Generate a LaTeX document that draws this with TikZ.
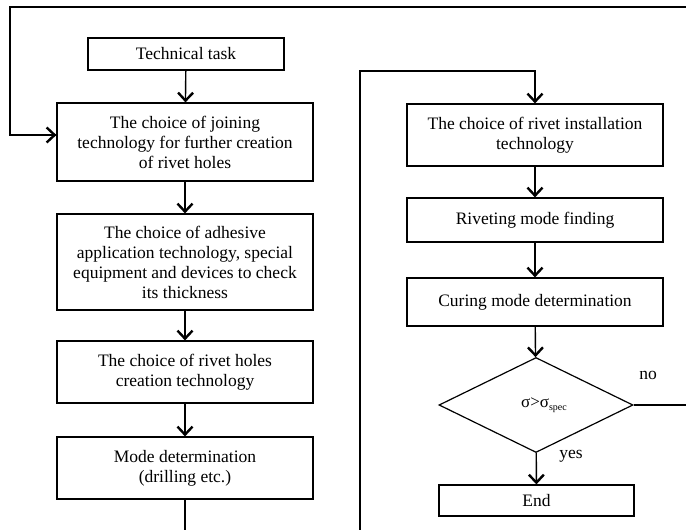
\documentclass[tikz,border=0pt]{standalone}
\usepackage{fontspec}
\setmainfont{Liberation Serif}
\usetikzlibrary{arrows.meta,shapes.geometric}
\begin{document}
\begin{tikzpicture}[x=1pt,y=-1pt,
  box/.style={draw, line width=1.2pt, inner sep=0pt, align=center,
    font=\fontsize{17.5}{20}\selectfont},
  decision/.style={diamond, draw, line width=1.2pt, inner sep=0pt,
    minimum width=194pt, minimum height=95pt},
  conn/.style={line width=1.4pt},
  arr/.style={conn, -{Straight Barb[length=8pt,width=15pt,line width=2.4pt]}},
  lbl/.style={font=\fontsize{17.5}{20}\selectfont}]
\useasboundingbox (0,0) rectangle (686,530);
\node[box, minimum width=196pt, minimum height=32pt] (t1) at (186,54) {Technical task};
\node[box, minimum width=256pt, minimum height=78pt] (b2) at (185,142)
  {The choice of joining\\technology for further creation\\of rivet holes};
\node[box, minimum width=256pt, minimum height=96pt] (b3) at (185,262)
  {The choice of adhesive\\application technology, special\\equipment and devices to check\\its thickness};
\node[box, minimum width=256pt, minimum height=62pt] (b4) at (185,372)
  {The choice of rivet holes\\creation technology};
\node[box, minimum width=256pt, minimum height=62pt] (b5) at (185,468)
  {Mode determination\\(drilling etc.)};
\node[box, minimum width=256pt, minimum height=62pt] (b6) at (535,135)
  {The choice of rivet installation\\technology};
\node[box, minimum width=256pt, minimum height=44pt] (b7) at (535,220)
  {Riveting mode finding};
\node[box, minimum width=256pt, minimum height=48pt] (b8) at (535,302)
  {Curing mode determination};
\node[decision] (d) at (536,405) {};
\node[font=\fontsize{17}{20}\selectfont, inner sep=0pt] (dl) at (544,405)
  {σ>σ\raisebox{-3pt}{\fontsize{10}{12}\selectfont spec}};
\node[box, minimum width=195pt, minimum height=31pt] (e) at (536.5,500.5) {End};
\node[lbl] (no) at (648,375) {no};
\node[lbl] (yes) at (571,456) {yes};
\coordinate (tr) at (686,7);
\coordinate (tl) at (10,7);
\coordinate (lb) at (185,530);
\coordinate (rb) at (360,530);
\coordinate (rt) at (360,71);
\coordinate (nr) at (686,405);
\draw[conn] (tr) -- (tl) |- ([yshift=7pt]b2.west);
\draw[arr] (tl |- b2.west) ++(0,-7) -- ([yshift=7pt]b2.west);
\draw[arr] (t1) -- (b2);
\draw[arr] (b2) -- (b3);
\draw[arr] (b3) -- (b4);
\draw[arr] (b4) -- (b5);
\draw[conn] (b5) -- (lb);
\draw[arr] (rb) -- (rt) -| (b6.north);
\draw[arr] (b6) -- (b7);
\draw[arr] (b7) -- (b8);
\draw[arr] (b8) -- (d);
\draw[arr] (d) -- (e);
\draw[conn] (d.east) -- (nr);
\end{tikzpicture}
\end{document}
